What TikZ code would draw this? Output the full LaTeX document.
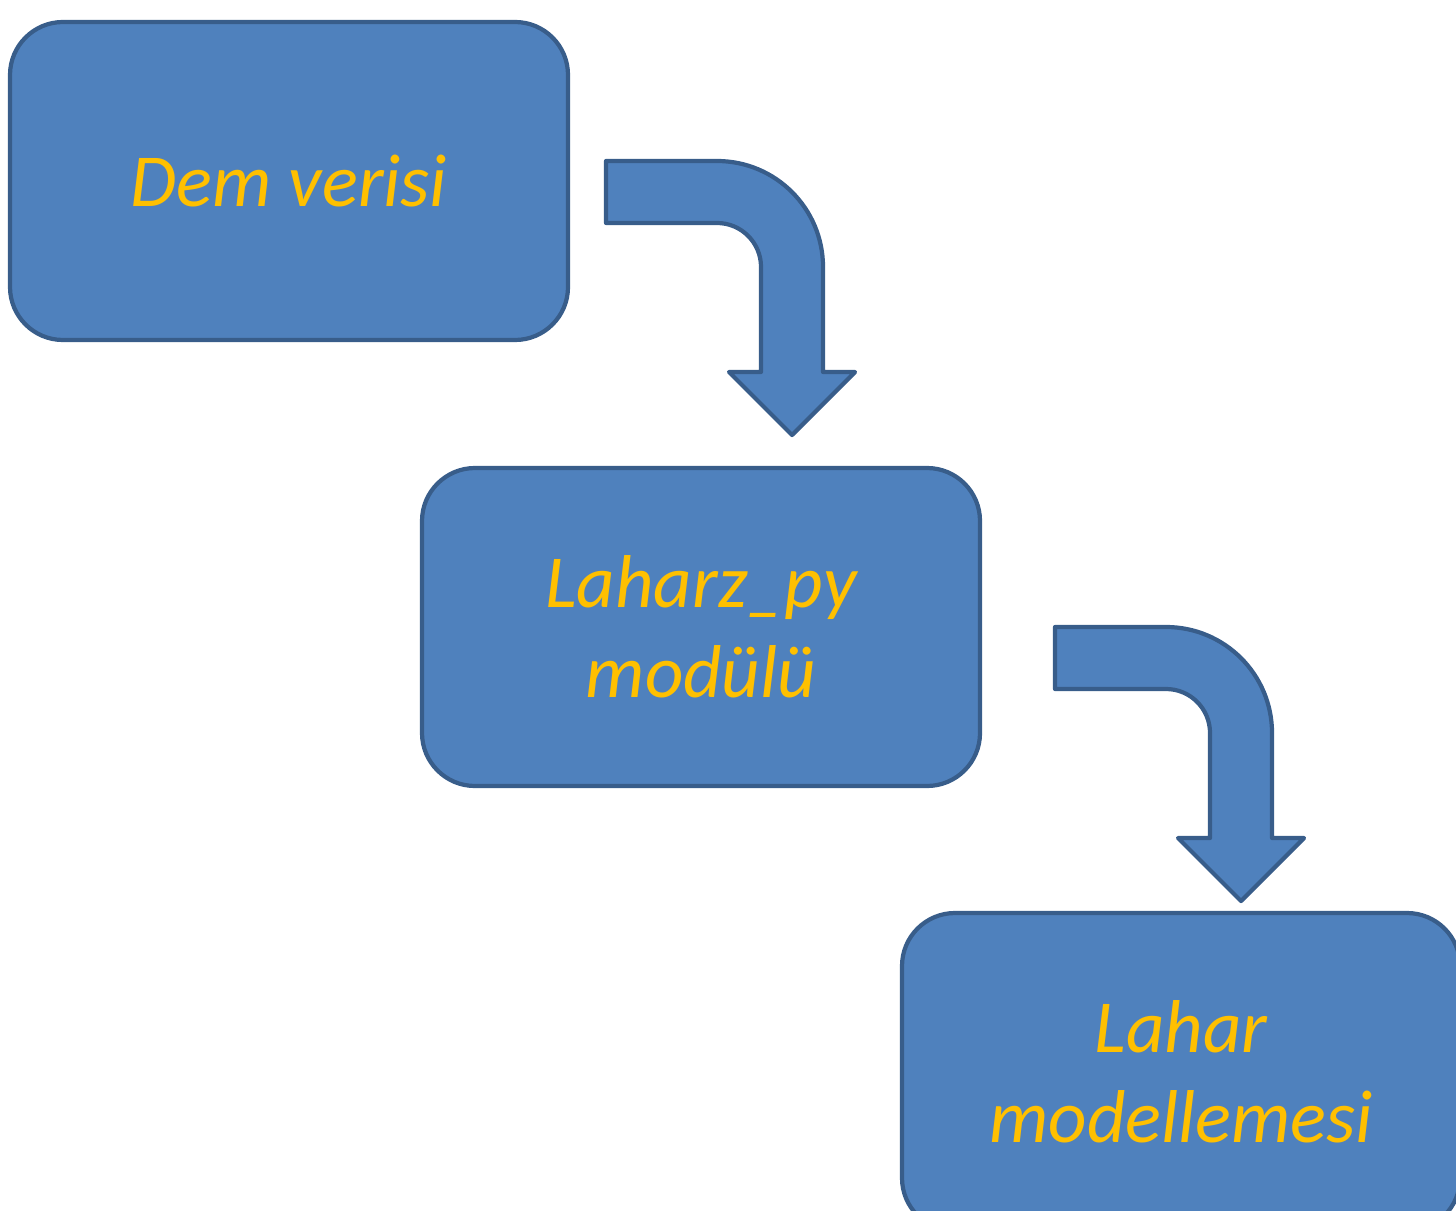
\documentclass[tikz,border=0pt]{standalone}
\usepackage{fontspec}
\setmainfont{Carlito}
\usepackage{xcolor}
\usetikzlibrary{positioning}
\definecolor{boxfill}{RGB}{79, 129, 189}
\definecolor{boxline}{RGB}{56, 93, 138}
\definecolor{boxtext}{RGB}{255, 192, 0}

\tikzset{
    bendarrow/.pic={
        \draw[boxline, line width=1.2pt, fill=boxfill, line join=round]
            (0,0) -- (1.11,0) arc (90:0:1.06) -- (2.17,-2.11) -- (2.49,-2.11)
            -- (1.86,-2.74) -- (1.23,-2.11) -- (1.55,-2.11) -- (1.55,-1.06)
            arc (0:90:0.44) -- (0,-0.62) -- cycle;
    }
}

\begin{document}
\begin{tikzpicture}[
    stage/.style={rectangle, rounded corners=0.53cm, draw=boxline, line width=1.2pt,
                  fill=boxfill, minimum width=5.58cm, minimum height=3.18cm,
                  align=center, text=boxtext, font=\fontsize{21.3}{25.5}\selectfont\itshape}]

    \useasboundingbox (0,0) rectangle (14.56,-12.10);
    \clip (0,0) rectangle (14.56,-12.10);

    % Stages
    \node[stage] (dem) at (2.89, -1.81) {Dem verisi};
    \node[stage] (laharz) at (7.01, -6.27) {Laharz\_py\\modülü};
    \node[stage] (model) at (11.81, -10.72) {Lahar\\modellemesi};

    % Arrows
    \pic at (6.06, -1.61) {bendarrow};
    \pic at (10.55, -6.27) {bendarrow};
\end{tikzpicture}
\end{document}
